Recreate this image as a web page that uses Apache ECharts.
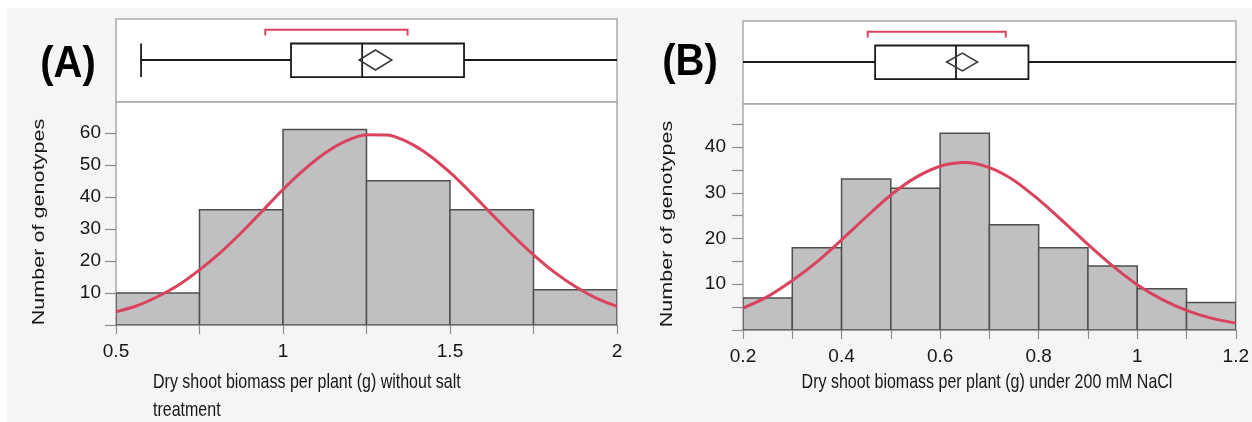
<!DOCTYPE html>
<html>
<head>
<meta charset="utf-8">
<script src="https://cdn.jsdelivr.net/npm/echarts@6/dist/echarts.min.js"></script>
<style>
  html, body { margin: 0; padding: 0; background: #ffffff; }
  #chart { width: 1252px; height: 422px; }
</style>
</head>
<body>
<div id="chart"></div>
<script>
// ---- Panel A: dry shoot biomass without salt treatment ----
const binEdgesA = [0.5, 0.75, 1.0, 1.25, 1.5, 1.75, 2.0];
const countsA = [10, 36, 61, 45, 36, 11];
// fitted normal curve, sampled along the axis
const curveXA = [0.5, 0.5625, 0.625, 0.6875, 0.75, 0.8125, 0.875, 0.9375, 1.0, 1.0625,
                 1.125, 1.1875, 1.25, 1.3125, 1.375, 1.4375, 1.5, 1.5625, 1.625, 1.6875,
                 1.75, 1.8125, 1.875, 1.9375, 2.0];
const curveYA = [4.1, 6.0, 8.9, 12.5, 17.2, 22.6, 28.8, 35.5, 42.3, 48.4,
                 53.6, 57.4, 59.4, 59.3, 57.0, 53.0, 47.6, 41.3, 34.6, 28.0,
                 21.9, 16.5, 12.0, 8.4, 5.8];
// box plot: whisker low, Q1, median, Q3, whisker high
const boxA = [0.575, 1.024, 1.237, 1.542, 2.2];
const meanA = 1.277;
const meanCiA = [1.228, 1.326];
const shortestHalfA = [0.947, 1.373];
const yTicksA = [0, 10, 20, 30, 40, 50, 60];
const yLabelsA = [10, 20, 30, 40, 50, 60];

// ---- Panel B: dry shoot biomass under 200 mM NaCl ----
const binEdgesB = [0.2, 0.3, 0.4, 0.5, 0.6, 0.7, 0.8, 0.9, 1.0, 1.1, 1.2];
const countsB = [7, 18, 33, 31, 43, 23, 18, 14, 9, 6];
const curveXB = [0.2, 0.25, 0.3, 0.35, 0.4, 0.45, 0.5, 0.55, 0.6, 0.65, 0.7,
                 0.75, 0.8, 0.85, 0.9, 0.95, 1.0, 1.05, 1.1, 1.15, 1.2];
const curveYB = [4.8, 7.3, 10.8, 14.9, 19.7, 24.7, 29.5, 33.3, 35.8, 36.6, 35.5,
                 32.7, 28.5, 23.7, 18.7, 14.0, 9.9, 6.7, 4.3, 2.6, 1.5];
const boxB = [0.15, 0.468, 0.632, 0.779, 1.23];
const meanB = 0.645;
const meanCiB = [0.613, 0.676];
const shortestHalfB = [0.453, 0.733];
const yTicksB = [0, 5, 10, 15, 20, 25, 30, 35, 40, 45];
const yLabelsB = [10, 20, 30, 40];

const FONT = '"Liberation Sans", Arial, sans-serif';
const AXIS_GRAY = '#8c8c8c';
const FRAME_GRAY = '#a9a9a9';
const TEXT = '#161616';
const RED = '#d9435d';

function histData(edges, counts) {
  return counts.map((c, i) => [edges[i], edges[i + 1], c]);
}
function curveData(xs, ys) {
  return xs.map((x, i) => [x, ys[i]]);
}

function renderHistBar(params, api) {
  const p0 = api.coord([api.value(0), api.value(2)]);
  const p1 = api.coord([api.value(1), 0]);
  return {
    type: 'rect',
    shape: { x: p0[0], y: p0[1], width: p1[0] - p0[0], height: p1[1] - p0[1] },
    style: { fill: '#c0c0c0', stroke: '#4f4f4f', lineWidth: 1.5 }
  };
}

function boxRenderer(diamondHalf) {
  return function (params, api) {
    const v = i => api.value(i);
    const [lo, q1, med, q3, hi, mean, ciLo, ciHi, shLo, shHi] = [0,1,2,3,4,5,6,7,8,9].map(v);
    const X = x => api.coord([x, 0.5])[0];
    const Y = f => api.coord([lo, f])[1];
    const yMid = Y(0.494), yTop = Y(0.295), yBot = Y(0.70);
    const yBr = Y(0.13), yBrEnd = Y(0.2);
    const dark = { stroke: '#1a1a1a', lineWidth: 1.8 };
    const line = (x1, y1, x2, y2, style) => ({ type: 'line', shape: { x1, y1, x2, y2 }, style });
    return {
      type: 'group',
      children: [
        line(X(lo), yMid, X(q1), yMid, dark),
        line(X(q3), yMid, X(hi), yMid, dark),
        line(X(lo), yTop, X(lo), yBot, dark),
        line(X(hi), yTop, X(hi), yBot, dark),
        { type: 'rect', shape: { x: X(q1), y: yTop, width: X(q3) - X(q1), height: yBot - yTop },
          style: { fill: '#ffffff', stroke: '#1a1a1a', lineWidth: 1.8 } },
        line(X(med), yTop, X(med), yBot, dark),
        { type: 'polygon',
          shape: { points: [[X(ciLo), yMid], [X(mean), yMid - diamondHalf], [X(ciHi), yMid], [X(mean), yMid + diamondHalf]] },
          style: { fill: 'none', stroke: '#3a3a3a', lineWidth: 1.5 } },
        { type: 'polyline',
          shape: { points: [[X(shLo), yBrEnd], [X(shLo), yBr], [X(shHi), yBr], [X(shHi), yBrEnd]] },
          style: { fill: 'none', stroke: RED, lineWidth: 2 } }
      ]
    };
  };
}

function boxGridAxes(min, max, gridIndex) {
  return {
    x: { type: 'value', gridIndex, min, max, show: false },
    y: { type: 'value', gridIndex, min: 0, max: 1, inverse: true, show: false }
  };
}

function histXAxis(gridIndex, min, max, interval) {
  return {
    type: 'value', gridIndex, min, max, interval,
    axisLine: { show: true, onZero: false, lineStyle: { color: AXIS_GRAY, width: 1.5 } },
    axisTick: { show: true, length: 9, lineStyle: { color: AXIS_GRAY, width: 1.2 } },
    minorTick: { show: true, splitNumber: 2, length: 9, lineStyle: { color: AXIS_GRAY, width: 1.2 } },
    axisLabel: { color: TEXT, fontFamily: FONT, fontSize: 19, margin: 17 },
    splitLine: { show: false },
    minorSplitLine: { show: false }
  };
}

function histYAxis(gridIndex, max, ticks, labels, margin) {
  return {
    type: 'value', gridIndex, min: 0, max, interval: 10,
    axisLine: { show: false },
    axisTick: { show: true, length: 11, customValues: ticks, lineStyle: { color: AXIS_GRAY, width: 1.2 } },
    axisLabel: { customValues: labels, color: TEXT, fontFamily: FONT, fontSize: 19, margin },
    splitLine: { show: false }
  };
}

const boxAxesA = boxGridAxes(0.5, 2.0, 0);
const boxAxesB = boxGridAxes(0.2, 1.2, 2);

const gridStyle = { show: true, backgroundColor: '#ffffff', borderColor: FRAME_GRAY, borderWidth: 1.5 };

const option = {
  backgroundColor: '#f5f5f5',
  animation: false,
  grid: [
    Object.assign({ left: 116, top: 19, width: 501, height: 83 }, gridStyle),
    Object.assign({ left: 116, top: 102, width: 501, height: 223 }, gridStyle),
    Object.assign({ left: 743, top: 21, width: 493, height: 83 }, gridStyle),
    Object.assign({ left: 743, top: 104, width: 493, height: 226 }, gridStyle)
  ],
  xAxis: [
    boxAxesA.x,
    histXAxis(1, 0.5, 2.0, 0.5),
    boxAxesB.x,
    histXAxis(3, 0.2, 1.2, 0.2)
  ],
  yAxis: [
    boxAxesA.y,
    histYAxis(1, 69.6, yTicksA, yLabelsA, 15),
    boxAxesB.y,
    histYAxis(3, 49.4, yTicksB, yLabelsB, 17)
  ],
  series: [
    {
      type: 'custom', xAxisIndex: 0, yAxisIndex: 0, clip: true,
      renderItem: boxRenderer(10),
      data: [[...boxA, meanA, ...meanCiA, ...shortestHalfA]]
    },
    {
      type: 'custom', xAxisIndex: 1, yAxisIndex: 1, clip: true,
      renderItem: renderHistBar,
      data: histData(binEdgesA, countsA)
    },
    {
      type: 'line', xAxisIndex: 1, yAxisIndex: 1, smooth: 0.3, showSymbol: false, clip: true,
      lineStyle: { color: RED, width: 3 }, z: 5,
      data: curveData(curveXA, curveYA)
    },
    {
      type: 'custom', xAxisIndex: 2, yAxisIndex: 2, clip: true,
      renderItem: boxRenderer(9),
      data: [[...boxB, meanB, ...meanCiB, ...shortestHalfB]]
    },
    {
      type: 'custom', xAxisIndex: 3, yAxisIndex: 3, clip: true,
      renderItem: renderHistBar,
      data: histData(binEdgesB, countsB)
    },
    {
      type: 'line', xAxisIndex: 3, yAxisIndex: 3, smooth: 0.3, showSymbol: false, clip: true,
      lineStyle: { color: RED, width: 3 }, z: 5,
      data: curveData(curveXB, curveYB)
    }
  ],
  graphic: [
    { type: 'rect', z: -10, shape: { x: 0, y: 0, width: 1252, height: 8 }, style: { fill: '#ffffff' } },
    { type: 'rect', z: -10, shape: { x: 0, y: 0, width: 7, height: 422 }, style: { fill: '#ffffff' } },
    { type: 'text', x: 68, y: 65, scaleY: 1.12,
      style: { text: '(A)', align: 'center', verticalAlign: 'middle', font: 'bold 40px ' + FONT, fill: '#000' } },
    { type: 'text', x: 690, y: 63, scaleY: 1.12,
      style: { text: '(B)', align: 'center', verticalAlign: 'middle', font: 'bold 40px ' + FONT, fill: '#000' } },
    { type: 'text', x: 40, y: 222, rotation: Math.PI / 2, scaleX: 1.35,
      style: { text: 'Number of genotypes', align: 'center', verticalAlign: 'middle', font: '16px ' + FONT, fill: TEXT } },
    { type: 'text', x: 668, y: 224, rotation: Math.PI / 2, scaleX: 1.35,
      style: { text: 'Number of genotypes', align: 'center', verticalAlign: 'middle', font: '16px ' + FONT, fill: TEXT } },
    { type: 'text', x: 153, y: 382, scaleY: 1.3,
      style: { text: 'Dry shoot biomass per plant (g) without salt', align: 'left', verticalAlign: 'middle', font: '16px ' + FONT, fill: TEXT } },
    { type: 'text', x: 153, y: 410, scaleY: 1.3,
      style: { text: 'treatment', align: 'left', verticalAlign: 'middle', font: '16px ' + FONT, fill: TEXT } },
    { type: 'text', x: 987, y: 382, scaleY: 1.3,
      style: { text: 'Dry shoot biomass per plant (g) under 200 mM NaCl', align: 'center', verticalAlign: 'middle', font: '16px ' + FONT, fill: TEXT } }
  ]
};

const chart = echarts.init(document.getElementById('chart'), null, { renderer: 'canvas' });
chart.setOption(option);
</script>
</body>
</html>
